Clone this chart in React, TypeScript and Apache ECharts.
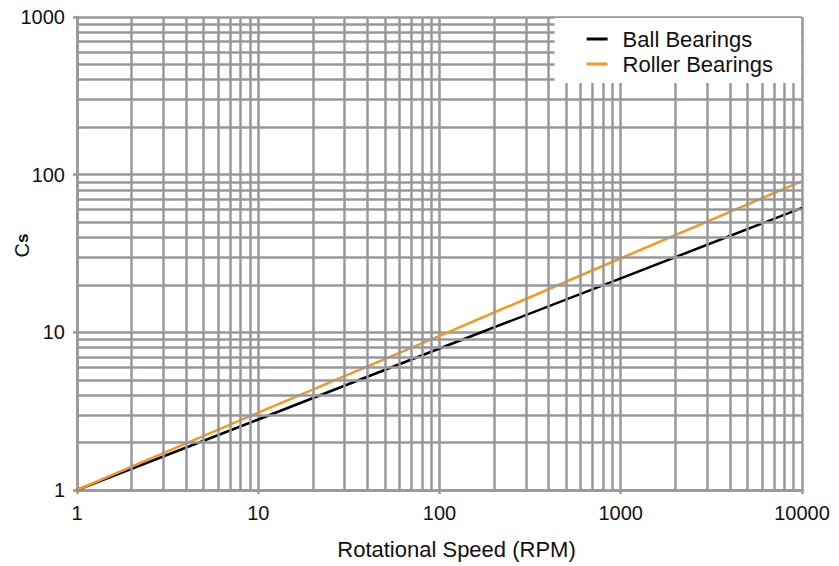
import React, { useEffect, useRef } from "react";
import * as echarts from "echarts";

const speeds = [1, 10, 100, 1000, 10000];
const ballBearings = [1, 2.8, 7.9, 22, 61.5];
const rollerBearings = [1, 3.1, 9.5, 29.5, 91];
const xMinorGrid = [2, 3, 4, 5, 6, 7, 8, 9, 20, 30, 40, 50, 60, 70, 80, 90, 200, 300, 400, 500, 600, 700, 800, 900, 2000, 3000, 4000, 5000, 6000, 7000, 8000, 9000];
const yMinorGrid = [2, 3, 4, 5, 6, 7, 8, 9, 20, 30, 40, 50, 60, 70, 80, 90, 200, 300, 400, 500, 600, 700, 800, 900];

const GRID = "#97989c";
const SANS = "'Liberation Sans', Arial, sans-serif";

export default function App() {
  const ref = useRef<HTMLDivElement>(null);
  useEffect(() => {
    const chart = echarts.init(ref.current!, null, { renderer: "svg" });
    chart.setOption({
      animation: false,
      backgroundColor: "#fff",
      grid: { left: 77, right: 37, top: 17, bottom: 76, containLabel: false, outerBoundsMode: "none" },
      legend: {
        data: ["Ball Bearings", "Roller Bearings"],
        orient: "vertical",
        right: 38,
        top: 18,
        z: 20,
        backgroundColor: "#fff",
        padding: [10, 28, 8, 32],
        itemGap: 3,
        itemWidth: 21,
        itemHeight: 3,
        icon: "rect",
        textStyle: { fontSize: 22, fontFamily: SANS, color: "#111", padding: [0, 0, 0, 10] },
      },
      xAxis: {
        type: "log",
        logBase: 10,
        min: 1,
        max: 10000,
        name: "Rotational Speed (RPM)",
        nameLocation: "middle",
        nameGap: 48,
        nameMoveOverlap: false,
        nameTextStyle: { fontSize: 22, fontFamily: SANS, color: "#111", padding: [0, 0, 0, 34] },
        axisLine: { show: true, lineStyle: { color: GRID, width: 2.5 } },
        axisTick: { show: true, length: 4, lineStyle: { color: GRID, width: 2.5 } },
        axisLabel: { fontSize: 20, fontFamily: SANS, color: "#111", margin: 13, formatter: (v: number) => String(v) },
        splitLine: { show: true, lineStyle: { color: GRID, width: 2.5 } },
      },
      yAxis: {
        type: "log",
        logBase: 10,
        min: 1,
        max: 1000,
        name: "{c|C}{s|s}",
        nameLocation: "middle",
        nameGap: 45,
        nameMoveOverlap: false,
        nameTextStyle: {
          color: "#111",
          padding: [0, 0, 0, 16],
          rich: {
            c: { fontSize: 20, fontFamily: SANS, color: "#111" },
            s: { fontSize: 17, fontFamily: SANS, fontWeight: "bold", color: "#111" },
          },
        },
        axisLine: { show: true, lineStyle: { color: GRID, width: 2.5 } },
        axisTick: { show: true, length: 4, lineStyle: { color: GRID, width: 2.5 } },
        axisLabel: { fontSize: 20, fontFamily: SANS, color: "#111", margin: 12, formatter: (v: number) => String(v) },
        splitLine: { show: true, lineStyle: { color: GRID, width: 2.5 } },
      },
      series: [
        {
          name: "minor-grid",
          type: "line",
          data: [],
          silent: true,
          z: 1,
          markLine: {
            silent: true,
            symbol: "none",
            label: { show: false },
            emphasis: { disabled: true },
            lineStyle: { color: GRID, width: 2.5, type: "solid" },
            data: [
              ...xMinorGrid.map((v) => ({ xAxis: v })),
              ...yMinorGrid.map((v) => ({ yAxis: v })),
            ],
          },
        },
        {
          name: "Ball Bearings",
          type: "line",
          data: speeds.map((s, i) => [s, ballBearings[i]]),
          showSymbol: false,
          symbol: "none",
          z: 3,
          color: "#000",
          lineStyle: { color: "#000", width: 2.5 },
        },
        {
          name: "Roller Bearings",
          type: "line",
          data: speeds.map((s, i) => [s, rollerBearings[i]]),
          showSymbol: false,
          symbol: "none",
          z: 3,
          color: "#f7971e",
          lineStyle: { color: "#f7971e", width: 2.5 },
        },
      ],
    });
    return () => chart.dispose();
  }, []);
  return <div ref={ref} style={{ width: 839, height: 566, position: "absolute", left: 0, top: 0 }} />;
}
